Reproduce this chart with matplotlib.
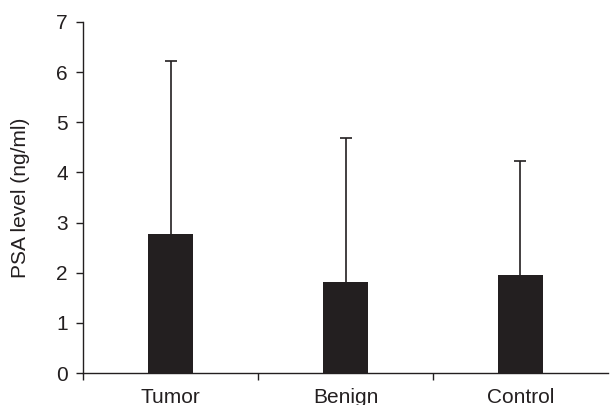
import matplotlib.pyplot as plt
import numpy as np

# PSA level per group: mean and upper SD
groups = ['Tumor', 'Benign', 'Control']
means = [2.77, 1.82, 1.95]
upper_sd = [3.44, 2.86, 2.27]

ink = '#231f20'
plt.rcParams['font.family'] = ['Liberation Sans', 'DejaVu Sans']

fig = plt.figure(figsize=(6.11, 4.05), dpi=100)
ax = fig.add_axes([0.136, 0.079, 0.859, 0.867])

x = np.arange(len(groups))
ax.bar(x, means, width=0.26, color=ink, zorder=2)
eb = ax.errorbar(x, means, yerr=[np.zeros(len(groups)), upper_sd], fmt='none',
                 ecolor=ink, elinewidth=1.2, capsize=4.5, capthick=1.2, zorder=1)
# only the upper cap is drawn
eb[1][0].set_visible(False)

ax.set_xlim(-0.5, 2.5)
ax.set_ylim(0, 7)
ax.set_yticks(range(8))
# category ticks sit between groups, labels centred under bars
ax.set_xticks([-0.5, 0.5, 1.5])
ax.set_xticklabels([])
ax.set_xticks(x, minor=True)
ax.set_xticklabels(groups, minor=True)
ax.tick_params(axis='both', which='major', length=5, width=1, color=ink,
               direction='out', labelsize=15, labelcolor=ink)
ax.tick_params(axis='y', which='major', pad=6)
ax.tick_params(axis='x', which='minor', length=0, pad=11,
               labelsize=15, labelcolor=ink)

for side in ['top', 'right']:
    ax.spines[side].set_visible(False)
for side in ['left', 'bottom']:
    ax.spines[side].set_color(ink)
    ax.spines[side].set_linewidth(1)

ax.set_ylabel('PSA level (ng/ml)', fontsize=15, color=ink, labelpad=19)

fig.savefig('out.png', dpi=100)
